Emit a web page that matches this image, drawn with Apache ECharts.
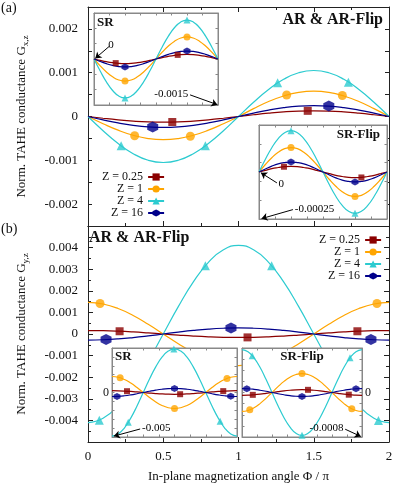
<!DOCTYPE html>
<html><head><meta charset="utf-8">
<script src="https://cdn.jsdelivr.net/npm/echarts@6/dist/echarts.min.js"></script>
<style>html,body{margin:0;padding:0;background:#fff}#c{width:395px;height:486px}</style>
</head><body><div id="c"></div>
<script>
// ---------- data ----------
const PHI = [0,0.1,0.2,0.3,0.4,0.5,0.6,0.7,0.8,0.9,1,1.1,1.2,1.3,1.4,1.5,1.6,1.7,1.8,1.9,2];
const Z_NAMES = ['Z = 0.25','Z = 1','Z = 4','Z = 16'];
const X_TICK_LABELS = ['0','0.5','1','1.5','2'];

// (a) main: AR & AR-Flip, G_x,z
const GX_R = [0,-4.0e-5,-7.6e-5,-1.05e-4,-1.24e-4,-1.3e-4,-1.24e-4,-1.05e-4,-7.6e-5,-4.0e-5,0,4.0e-5,7.6e-5,1.05e-4,1.24e-4,1.3e-4,1.24e-4,1.05e-4,7.6e-5,4.0e-5,0];
const GX_O = [0,-1.64e-4,-3.12e-4,-4.29e-4,-5.04e-4,-5.3e-4,-5.04e-4,-4.29e-4,-3.12e-4,-1.64e-4,0,1.79e-4,3.41e-4,4.69e-4,5.52e-4,5.8e-4,5.52e-4,4.69e-4,3.41e-4,1.79e-4,0];
const GX_C = [0,-3.24e-4,-6.17e-4,-8.49e-4,-9.99e-4,-1.05e-3,-9.99e-4,-8.49e-4,-6.17e-4,-3.24e-4,0,3.24e-4,6.17e-4,8.49e-4,9.99e-4,1.05e-3,9.99e-4,8.49e-4,6.17e-4,3.24e-4,0];
const GX_B = [0,-7.7e-5,-1.47e-4,-2.02e-4,-2.38e-4,-2.5e-4,-2.38e-4,-2.02e-4,-1.47e-4,-7.7e-5,0,7.7e-5,1.47e-4,2.02e-4,2.38e-4,2.5e-4,2.38e-4,2.02e-4,1.47e-4,7.7e-5,0];
const GX_MR = [[0.56,-1.26e-4],[1.46,1.29e-4]];
const GX_MO = [[0.31,-4.4e-4],[0.68,-4.5e-4],[1.32,4.9e-4],[1.69,4.8e-4]];
const GX_MC = [[0.22,-6.7e-4],[0.78,-6.7e-4],[1.26,7.7e-4],[1.73,7.8e-4]];
const GX_MB = [[0.43,-2.4e-4],[1.6,2.4e-4]];

// (b) main: AR & AR-Flip, G_y,z
const GY_R = [1.6e-4,1.52e-4,1.29e-4,9.4e-5,4.9e-5,0,-4.9e-5,-9.4e-5,-1.29e-4,-1.52e-4,-1.6e-4,-1.52e-4,-1.29e-4,-9.4e-5,-4.9e-5,0,4.9e-5,9.4e-5,1.29e-4,1.52e-4,1.6e-4];
const GY_O = [1.46e-3,1.388e-3,1.181e-3,8.58e-4,4.51e-4,0,-4.51e-4,-8.58e-4,-1.181e-3,-1.388e-3,-1.46e-3,-1.388e-3,-1.181e-3,-8.58e-4,-4.51e-4,0,4.51e-4,8.58e-4,1.181e-3,1.388e-3,1.46e-3];
const GY_C = [-4.1e-3,-3.899e-3,-3.317e-3,-2.411e-3,-1.267e-3,0,1.267e-3,2.411e-3,3.317e-3,3.899e-3,4.1e-3,3.899e-3,3.317e-3,2.411e-3,1.267e-3,0,-1.267e-3,-2.411e-3,-3.317e-3,-3.899e-3,-4.1e-3];
const GY_B = [-2.8e-4,-2.66e-4,-2.27e-4,-1.65e-4,-8.7e-5,0,8.7e-5,1.65e-4,2.27e-4,2.66e-4,2.8e-4,2.66e-4,2.27e-4,1.65e-4,8.7e-5,0,-8.7e-5,-1.65e-4,-2.27e-4,-2.66e-4,-2.8e-4];
const GY_MR = [[0.21,1.27e-4],[1.06,-1.57e-4],[1.79,1.27e-4]];
const GY_MO = [[0.08,1.41e-3],[1.92,1.41e-3]];
const GY_MC = [[0.075,-3.99e-3],[0.78,3.16e-3],[1.22,3.16e-3],[1.93,-4.0e-3]];
const GY_MB = [[0.12,-2.6e-4],[0.95,2.77e-4],[1.88,-2.6e-4]];

// inset (a) SR
const SRA_R = [0,-4.6e-5,-8.8e-5,-1.21e-4,-1.43e-4,-1.5e-4,-1.43e-4,-1.21e-4,-8.8e-5,-4.6e-5,0,4.6e-5,8.8e-5,1.21e-4,1.43e-4,1.5e-4,1.43e-4,1.21e-4,8.8e-5,4.6e-5,0];
const SRA_O = [0,-2.22e-4,-4.23e-4,-5.82e-4,-6.85e-4,-7.2e-4,-6.85e-4,-5.82e-4,-4.23e-4,-2.22e-4,0,2.22e-4,4.23e-4,5.82e-4,6.85e-4,7.2e-4,6.85e-4,5.82e-4,4.23e-4,2.22e-4,0];
const SRA_C = [0,-3.92e-4,-7.47e-4,-1.027e-3,-1.208e-3,-1.27e-3,-1.208e-3,-1.027e-3,-7.47e-4,-3.92e-4,0,3.92e-4,7.47e-4,1.027e-3,1.208e-3,1.27e-3,1.208e-3,1.027e-3,7.47e-4,3.92e-4,0];
const SRA_B = [0,-8.0e-5,-1.53e-4,-2.1e-4,-2.47e-4,-2.6e-4,-2.47e-4,-2.1e-4,-1.53e-4,-8.0e-5,0,8.0e-5,1.53e-4,2.1e-4,2.47e-4,2.6e-4,2.47e-4,2.1e-4,1.53e-4,8.0e-5,0];
const SRA_MR = [[0.35,-1.34e-4],[1.35,1.34e-4]];
const SRA_MO = [[0.5,-7.2e-4],[1.5,7.2e-4]];
const SRA_MC = [[0.5,-1.27e-3],[1.5,1.27e-3]];
const SRA_MB = [[0.5,-2.6e-4],[1.5,2.6e-4]];

// inset (a) SR-Flip
const SFA_R = [0,9e-6,1.8e-5,2.4e-5,2.9e-5,3.0e-5,2.9e-5,2.4e-5,1.8e-5,9e-6,0,-9e-6,-1.8e-5,-2.4e-5,-2.9e-5,-3.0e-5,-2.9e-5,-2.4e-5,-1.8e-5,-9e-6,0];
const SFA_O = [0,4.0e-5,7.6e-5,1.05e-4,1.24e-4,1.3e-4,1.24e-4,1.05e-4,7.6e-5,4.0e-5,0,-4.0e-5,-7.6e-5,-1.05e-4,-1.24e-4,-1.3e-4,-1.24e-4,-1.05e-4,-7.6e-5,-4.0e-5,0];
const SFA_C = [0,6.8e-5,1.29e-4,1.78e-4,2.09e-4,2.2e-4,2.09e-4,1.78e-4,1.29e-4,6.8e-5,0,-6.8e-5,-1.29e-4,-1.78e-4,-2.09e-4,-2.2e-4,-2.09e-4,-1.78e-4,-1.29e-4,-6.8e-5,0];
const SFA_B = [0,1.6e-5,3.1e-5,4.3e-5,5.0e-5,5.3e-5,5.0e-5,4.3e-5,3.1e-5,1.6e-5,0,-1.6e-5,-3.1e-5,-4.3e-5,-5.0e-5,-5.3e-5,-5.0e-5,-4.3e-5,-3.1e-5,-1.6e-5,0];
const SFA_MR = [[0.39,2.8e-5],[1.6,-2.9e-5]];
const SFA_MO = [[0.5,1.3e-4],[1.5,-1.3e-4]];
const SFA_MC = [[0.5,2.2e-4],[1.5,-2.2e-4]];
const SFA_MB = [[0.5,5.3e-5],[1.5,-5.3e-5]];

// inset (b) SR
const SRB_R = [2.0e-4,1.9e-4,1.62e-4,1.18e-4,6.2e-5,0,-6.2e-5,-1.18e-4,-1.62e-4,-1.9e-4,-2.0e-4,-1.9e-4,-1.62e-4,-1.18e-4,-6.2e-5,0,6.2e-5,1.18e-4,1.62e-4,1.9e-4,2.0e-4];
const SRB_O = [1.8e-3,1.712e-3,1.456e-3,1.058e-3,5.56e-4,0,-5.56e-4,-1.058e-3,-1.456e-3,-1.712e-3,-1.8e-3,-1.712e-3,-1.456e-3,-1.058e-3,-5.56e-4,0,5.56e-4,1.058e-3,1.456e-3,1.712e-3,1.8e-3];
const SRB_C = [-4.9e-3,-4.66e-3,-3.964e-3,-2.881e-3,-1.514e-3,0,1.514e-3,2.881e-3,3.964e-3,4.66e-3,4.9e-3,4.66e-3,3.964e-3,2.881e-3,1.514e-3,0,-1.514e-3,-2.881e-3,-3.964e-3,-4.66e-3,-4.9e-3];
const SRB_B = [-4.5e-4,-4.28e-4,-3.64e-4,-2.65e-4,-1.39e-4,0,1.39e-4,2.65e-4,3.64e-4,4.28e-4,4.5e-4,4.28e-4,3.64e-4,2.65e-4,1.39e-4,0,-1.39e-4,-2.65e-4,-3.64e-4,-4.28e-4,-4.5e-4];
const SRB_MR = [[0.24,1.46e-4],[1.09,-1.92e-4],[1.78,1.54e-4]];
const SRB_MO = [[0.13,1.65e-3],[1.0,-1.8e-3],[1.84,1.58e-3]];
const SRB_MC = [[0.26,-3.34e-3],[0.99,4.9e-3],[1.73,-3.24e-3]];
const SRB_MB = [[0.08,-4.36e-4],[1.0,4.5e-4],[1.9,-4.28e-4]];

// inset (b) SR-Flip
const SFB_R = [-5.0e-5,-4.8e-5,-4.0e-5,-2.9e-5,-1.5e-5,0,1.5e-5,2.9e-5,4.0e-5,4.8e-5,5.0e-5,4.8e-5,4.0e-5,2.9e-5,1.5e-5,0,-1.5e-5,-2.9e-5,-4.0e-5,-4.8e-5,-5.0e-5];
const SFB_O = [-3.4e-4,-3.23e-4,-2.75e-4,-2.0e-4,-1.05e-4,0,1.05e-4,2.0e-4,2.75e-4,3.23e-4,3.4e-4,3.23e-4,2.75e-4,2.0e-4,1.05e-4,0,-1.05e-4,-2.0e-4,-2.75e-4,-3.23e-4,-3.4e-4];
const SFB_C = [7.7e-4,7.32e-4,6.23e-4,4.53e-4,2.38e-4,0,-2.38e-4,-4.53e-4,-6.23e-4,-7.32e-4,-7.7e-4,-7.32e-4,-6.23e-4,-4.53e-4,-2.38e-4,0,2.38e-4,4.53e-4,6.23e-4,7.32e-4,7.7e-4];
const SFB_B = [7.0e-5,6.7e-5,5.7e-5,4.1e-5,2.2e-5,0,-2.2e-5,-4.1e-5,-5.7e-5,-6.7e-5,-7.0e-5,-6.7e-5,-5.7e-5,-4.1e-5,-2.2e-5,0,2.2e-5,4.1e-5,5.7e-5,6.7e-5,7.0e-5];
const SFB_MR = [[0.18,-4.2e-5],[1.1,4.8e-5],[1.78,-3.9e-5]];
const SFB_MO = [[0.13,-3.12e-4],[1.0,3.4e-4],[1.83,-2.92e-4]];
const SFB_MC = [[0.17,6.62e-4],[1.0,-7.7e-4],[1.8,6.23e-4]];
const SFB_MB = [[0.08,6.8e-5],[1.0,-7.0e-5],[1.9,6.7e-5]];

// ---------- styling ----------
const FONT = "'Liberation Serif','Times New Roman',serif";
const COLORS = ['#8b0000','#ffa500','#2ccbd0','#00008b'];
const HEX = 'path://M0,-10L8.66,-5L8.66,5L0,10L-8.66,5L-8.66,-5Z';
const SYMS = ['rect','circle','triangle',HEX];
const MAIN_SIZES = [8,9,9,11];
const INSET_SIZES = [6,7,7,7];
const FRAME = '#222', IFRAME = '#888';

const panels = [
  {curves:[GX_R,GX_O,GX_C,GX_B], marks:[GX_MR,GX_MO,GX_MC,GX_MB], main:true},
  {curves:[GY_R,GY_O,GY_C,GY_B], marks:[GY_MR,GY_MO,GY_MC,GY_MB], main:true},
  {curves:[SRA_R,SRA_O,SRA_C,SRA_B], marks:[SRA_MR,SRA_MO,SRA_MC,SRA_MB]},
  {curves:[SFA_R,SFA_O,SFA_C,SFA_B], marks:[SFA_MR,SFA_MO,SFA_MC,SFA_MB]},
  {curves:[SRB_R,SRB_O,SRB_C,SRB_B], marks:[SRB_MR,SRB_MO,SRB_MC,SRB_MB]},
  {curves:[SFB_R,SFB_O,SFB_C,SFB_B], marks:[SFB_MR,SFB_MO,SFB_MC,SFB_MB]}
];

const grids = [
  {left:88, top:7, width:301, height:219, z:0},
  {left:88, top:226, width:301, height:216, z:0},
  {left:94, top:13, width:124, height:92, z:10, show:true, backgroundColor:'#fff', borderColor:IFRAME, borderWidth:1},
  {left:259, top:125, width:128, height:94, z:10, show:true, backgroundColor:'#fff', borderColor:IFRAME, borderWidth:1},
  {left:112, top:348, width:125, height:89, z:10, show:true, backgroundColor:'#fff', borderColor:IFRAME, borderWidth:1},
  {left:242, top:348, width:120, height:89, z:10, show:true, backgroundColor:'#fff', borderColor:IFRAME, borderWidth:1}
].map(g => Object.assign({containLabel:false, outerBoundsMode:'none'}, g));

function ax(g, pos, min, max, interval, color, tickLen, extra, z) {
  return Object.assign({
    type:'value', gridIndex:g, position:pos, min:min, max:max, interval:interval, z: z||0,
    axisLine:{show:true, onZero:false, lineStyle:{color:color, width:1}},
    axisTick:{show:true, inside:true, length:tickLen, lineStyle:{color:color, width:1}},
    axisLabel:{show:false},
    splitLine:{show:false}
  }, extra||{});
}
const labStyle = {fontFamily:FONT, fontSize:13, color:'#111'};
function fmtA(v){ const k=Math.round(v*1e4); return k%10===0 ? String(k/1e4) : ''; }
function fmtB(v){ const k=Math.round(v*1e4); return (k%10===0 && Math.abs(k)<50) ? String(k/1e4) : ''; }
function fmtX(v){ const s=String(Math.round(v*100)/100); return X_TICK_LABELS.indexOf(s)>=0 ? s : ''; }
function fmtZero(v){ return Math.abs(v)<1e-12 ? '0' : ''; }
const minorX = {minorTick:{show:true, splitNumber:2, length:3, lineStyle:{color:FRAME}}};

function yName(sub){
  return {
    name:'{n|Norm. TAHE conductance G}{s|' + sub + '}',
    nameLocation:'middle', nameGap:58,
    nameTextStyle:{rich:{
      n:{fontFamily:FONT, fontSize:13, color:'#111', lineHeight:16},
      s:{fontFamily:FONT, fontSize:9, color:'#111', lineHeight:9, verticalAlign:'bottom'}
    }}
  };
}

const xAxis = [
  ax(0,'bottom',0,2,0.5,FRAME,5,minorX),
  ax(0,'top',0,2,0.5,FRAME,5,minorX),
  ax(1,'bottom',0,2,0.5,FRAME,5,Object.assign({
    axisLabel:Object.assign({show:true, margin:8, interval:0, formatter:fmtX}, labStyle),
    name:'In-plane magnetization angle Φ / π', nameLocation:'middle', nameGap:28,
    nameTextStyle:{fontFamily:FONT, fontSize:13, color:'#111'}
  }, minorX)),
  ax(1,'top',0,2,0.5,FRAME,0,{axisTick:{show:false}}),
  ax(2,'bottom',0,2,0.25,IFRAME,2.5,null,11),
  ax(2,'top',0,2,0.25,IFRAME,2.5,null,11),
  ax(3,'bottom',0,2,0.25,IFRAME,2.5,null,11),
  ax(3,'top',0,2,0.25,IFRAME,2.5,null,11),
  ax(4,'bottom',0,2,0.25,IFRAME,2.5,null,11),
  ax(4,'top',0,2,0.25,IFRAME,2.5,null,11),
  ax(5,'bottom',0,2,0.25,IFRAME,2.5,null,11),
  ax(5,'top',0,2,0.25,IFRAME,2.5,null,11)
];
const yAxis = [
  ax(0,'left',-0.0025,0.0025,0.0005,FRAME,4,Object.assign({
    axisLabel:Object.assign({show:true, margin:10, interval:0, formatter:fmtA}, labStyle)
  }, yName('x,z'))),
  ax(0,'right',-0.0025,0.0025,0.0005,FRAME,4),
  ax(1,'left',-0.005,0.005,0.001,FRAME,5,Object.assign({
    axisLabel:Object.assign({show:true, margin:10, interval:0, formatter:fmtB}, labStyle),
    minorTick:{show:true, splitNumber:2, length:3, lineStyle:{color:FRAME}}
  }, yName('y,z'))),
  ax(1,'right',-0.005,0.005,0.001,FRAME,5,{minorTick:{show:true, splitNumber:2, length:3, lineStyle:{color:FRAME}}}),
  ax(2,'left',-0.0015,0.0015,0.0005,IFRAME,2.5,null,11),
  ax(2,'right',-0.0015,0.0015,0.0005,IFRAME,2.5,null,11),
  ax(3,'left',-0.00025,0.00025,0.0001,IFRAME,2.5,null,11),
  ax(3,'right',-0.00025,0.00025,0.0001,IFRAME,2.5,null,11),
  ax(4,'left',-0.005,0.005,0.001,IFRAME,2.5,{axisLabel:{show:true, margin:3, interval:0, formatter:fmtZero, fontFamily:FONT, fontSize:12, color:'#111'}},11),
  ax(4,'right',-0.005,0.005,0.001,IFRAME,2.5,null,11),
  ax(5,'left',-0.0008,0.0008,0.0002,IFRAME,2.5,null,11),
  ax(5,'right',-0.0008,0.0008,0.0002,IFRAME,2.5,{axisLabel:{show:true, margin:3, interval:0, formatter:fmtZero, fontFamily:FONT, fontSize:12, color:'#111'}},11)
];

function arrow(text, from, to){ return [{coord:from, name:text}, {coord:to}]; }
const ARROWS = {
  2: [arrow('0',[0.25,0.00042],[0.02,0.00002]), arrow('-0.0015',[1.55,-0.00117],[1.99,-0.00149])],
  3: [arrow('0',[0.28,-0.000058],[0.03,-0.000004]), arrow('-0.00025',[0.53,-0.0002],[0.04,-0.000248])],
  4: [arrow('-0.005',[0.45,-0.0041],[0.03,-0.0049])],
  5: [arrow('-0.0008',[1.72,-0.00066],[1.98,-0.00079])]
};

const series = [];
panels.forEach((p, g) => {
  const z = p.main ? 2 : 12;
  p.curves.forEach((vals, k) => {
    const name = p.main ? Z_NAMES[k] : ('inset' + g + '_' + k);
    const s = {
      type:'line', name:name, xAxisIndex:g*2, yAxisIndex:g*2, z:z,
      data: PHI.map((ph,i) => [ph, vals[i]]),
      smooth:true, showSymbol:false, symbol:SYMS[k], symbolSize:p.main?MAIN_SIZES[k]:INSET_SIZES[k],
      lineStyle:{color:COLORS[k], width:1.2}, itemStyle:{color:COLORS[k]},
      silent:true, animation:false
    };
    if (k === 0 && ARROWS[g]) {
      s.markLine = {
        silent:true, animation:false, z:z+5, symbol:['none','arrow'], symbolSize:6,
        lineStyle:{color:'#000', width:1, type:'solid'},
        label:{show:true, position:'start', formatter:'{b}', fontFamily:FONT, fontSize:11, color:'#000', distance:2},
        data: ARROWS[g]
      };
    }
    series.push(s);
    series.push({
      type:'scatter', name:name + '_m', xAxisIndex:g*2, yAxisIndex:g*2, z:z+1,
      data: p.marks[k], symbol:SYMS[k], symbolSize:p.main?MAIN_SIZES[k]:INSET_SIZES[k],
      itemStyle:{color:COLORS[k]}, silent:true, animation:false
    });
  });
});

function legendAt(left, top){
  return {
    data:Z_NAMES, orient:'vertical', left:left, top:top, align:'right',
    itemWidth:16, itemHeight:9, itemGap:0, selectedMode:false,
    formatter: n => '{t|' + n + '}',
    textStyle:{fontFamily:FONT, fontSize:12, color:'#111',
      rich:{t:{width:38, align:'right', fontFamily:FONT, fontSize:12, lineHeight:14, color:'#111'}}}
  };
}

function txt(x, y, text, font, align){
  return {type:'text', x:x, y:y, z:100, silent:true,
    style:{text:text, font:font, fill:'#111', textAlign:align||'left', align:align||'left',
      textVerticalAlign:'middle', verticalAlign:'middle'}};
}
const BOLD16 = "bold 16px " + FONT, BOLD13 = "bold 13px " + FONT, REG14 = "14px " + FONT;

const chart = echarts.init(document.getElementById('c'), null, {renderer:'canvas'});
chart.setOption({
  animation:false,
  backgroundColor:'#fff',
  grid:grids, xAxis:xAxis, yAxis:yAxis, series:series,
  legend:[legendAt(97,166), legendAt(314,229)],
  graphic:[
    txt(1, 8, '(a)', REG14),
    txt(1, 229, '(b)', REG14),
    txt(383, 20, 'AR & AR-Flip', BOLD16, 'right'),
    txt(89, 238, 'AR & AR-Flip', BOLD16),
    txt(97, 23, 'SR', BOLD13),
    txt(380, 135, 'SR-Flip', BOLD13, 'right'),
    txt(115, 357, 'SR', BOLD13),
    txt(302, 357, 'SR-Flip', BOLD13, 'center')
  ]
});
</script></body></html>
